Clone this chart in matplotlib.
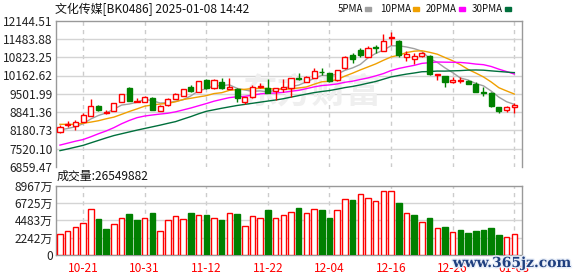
import matplotlib
matplotlib.use("Agg")
import matplotlib.pyplot as plt
import matplotlib.patheffects as pe
import numpy as np

plt.rcParams['font.family'] = ['Noto Sans CJK SC', 'DejaVu Sans']

# ---- data ----
dates = ['10-16', '10-17', '10-18', '10-21', '10-22', '10-23', '10-24', '10-25', '10-28', '10-29',
         '10-30', '10-31', '11-01', '11-04', '11-05', '11-06', '11-07', '11-08', '11-11', '11-12',
         '11-13', '11-14', '11-15', '11-18', '11-19', '11-20', '11-21', '11-22', '11-25', '11-26',
         '11-27', '11-28', '11-29', '12-02', '12-03', '12-04', '12-05', '12-06', '12-09', '12-10',
         '12-11', '12-12', '12-13', '12-16', '12-17', '12-18', '12-19', '12-20', '12-23', '12-24',
         '12-25', '12-26', '12-27', '12-30', '12-31', '01-02', '01-03', '01-06', '01-07', '01-08']

opens = [8112, 8364, 8340, 8496, 8713, 9062, 8821, 8893, 9194, 9699,
         9206, 9218, 9339, 8881, 9098, 9330, 9423, 9760, 9579, 10000,
         9700, 9940, 9663, 9663, 9218, 9375, 9736, 9724, 9603, 9663,
         9700, 10070, 9941, 10085, 10302, 10242, 10001, 10422, 10903, 11084,
         10819, 11204, 11060, 11505, 11421, 10819, 10758, 10879, 10867, 10181,
         10145, 9940, 9970, 9964, 9856, 9579, 9543, 9014, 8918, 9038]
highs = [8376, 8520, 8557, 8797, 9314, 9098, 8917, 9182, 9483, 9760,
         9339, 9423, 9375, 9086, 9339, 9520, 9675, 9820, 9964, 10024,
         10036, 10060, 10060, 9724, 9399, 9820, 9880, 10024, 9712, 10024,
         10060, 10266, 10145, 10422, 10422, 10266, 10362, 10867, 10963, 11144,
         11240, 11264, 11661, 11745, 11457, 11048, 10963, 11023, 10891, 10217,
         10157, 10121, 10121, 10001, 9940, 9760, 9555, 9026, 9050, 9159]
lows = [8100, 8316, 8196, 8484, 8713, 8893, 8761, 8893, 9194, 9230,
        9194, 9194, 8917, 8881, 9074, 9320, 9410, 9579, 9567, 9688,
        9676, 9663, 9663, 9218, 9122, 9363, 9700, 9519, 9278, 9579,
        9400, 10001, 9941, 10061, 10182, 9941, 9965, 10410, 10602, 10843,
        10819, 10987, 11048, 11264, 10843, 10687, 10566, 10843, 10181, 10000,
        9760, 9904, 9880, 9844, 9555, 9435, 9038, 8797, 8858, 8822]
closes = [8292, 8400, 8472, 8737, 9062, 8929, 8845, 9158, 9483, 9254,
          9240, 9375, 8917, 9062, 9302, 9500, 9663, 9615, 9964, 9700,
          10000, 9700, 9760, 9339, 9399, 9760, 9784, 9543, 9700, 9736,
          10060, 10040, 10121, 10326, 10278, 9965, 10362, 10819, 10759, 10903,
          11144, 11168, 11421, 11541, 10903, 10927, 10867, 10963, 10205, 10217,
          9940, 10001, 9990, 9856, 9579, 9519, 9062, 8882, 9038, 9098]

ma5 = [8200, 8250, 8310, 8420, 8593, 8720, 8809, 8946, 9095, 9134,
       9196, 9302, 9254, 9169, 9179, 9231, 9289, 9428, 9609, 9688,
       9788, 9796, 9825, 9700, 9640, 9592, 9608, 9565, 9637, 9705,
       9765, 9816, 9931, 10057, 10165, 10155, 10210, 10350, 10437, 10562,
       10797, 10959, 11079, 11235, 11235, 11192, 11132, 11040, 10773, 10636,
       10438, 10265, 10071, 10001, 9873, 9789, 9601, 9380, 9216, 9120]
ma10 = [8400, 8400, 8400, 8440, 8480, 8530, 8600, 8660, 8760, 8863,
        8957, 9055, 9099, 9132, 9156, 9213, 9295, 9341, 9389, 9435,
        9510, 9542, 9627, 9654, 9664, 9690, 9702, 9695, 9669, 9672,
        9678, 9713, 9749, 9847, 9935, 9956, 10014, 10141, 10247, 10364,
        10472, 10581, 10711, 10832, 10895, 10991, 11041, 11056, 11000, 10932,
        10811, 10695, 10552, 10383, 10251, 10110, 9929, 9721, 9605, 9494]
ma20 = [7650, 7720, 7790, 7850, 7950, 8060, 8160, 8280, 8420, 8540,
        8640, 8700, 8737, 8770, 8800, 8850, 8920, 8990, 9070, 9149,
        9235, 9300, 9364, 9394, 9411, 9453, 9499, 9519, 9530, 9554,
        9594, 9627, 9688, 9751, 9800, 9823, 9858, 9918, 9958, 10018,
        10075, 10149, 10232, 10342, 10417, 10475, 10529, 10600, 10626, 10650,
        10644, 10640, 10634, 10610, 10575, 10553, 10488, 10391, 10305, 10215]
ma30 = [7450, 7510, 7575, 7640, 7730, 7820, 7910, 7994, 8060, 8125,
        8190, 8250, 8310, 8370, 8435, 8497, 8590, 8680, 8780, 8870,
        8925, 8980, 9030, 9080, 9120, 9160, 9200, 9240, 9278, 9324,
        9382, 9437, 9492, 9545, 9585, 9620, 9670, 9726, 9768, 9823,
        9886, 9946, 10029, 10112, 10165, 10213, 10253, 10298, 10306, 10323,
        10321, 10331, 10339, 10356, 10362, 10354, 10330, 10308, 10286, 10265]

# volume in 万
volume = [2780, 3113, 3625, 4189, 5982, 4701, 3331, 4061, 4829, 5252,
          4483, 4829, 5419, 3074, 4483, 4996, 4612, 5419, 5124, 5161,
          4735, 4516, 5380, 5290, 3742, 5032, 4735, 5806, 4735, 5161,
          5509, 6064, 5380, 5896, 5806, 4774, 5806, 7186, 7096, 7831,
          7315, 6967, 8257, 8257, 6748, 5458, 5161, 4219, 4774, 3445,
          3574, 2968, 3226, 2877, 3097, 3226, 3484, 2581, 2284, 2655]

price_ticks = [6859.47, 7520.10, 8180.73, 8841.36, 9501.99, 10162.62, 10823.25, 11483.88, 12144.51]
vol_ticks = [0, 2242, 4483, 6725, 8967]
vol_tick_labels = ['0', '2242万', '4483万', '6725万', '8967万']
x_tick_labels = ['10-21', '10-31', '11-12', '11-22', '12-04', '12-16', '12-26', '01-08']
title = '文化传媒[BK0486] 2025-01-08 14:42'
vol_title = '成交量:26549882'

# ---- styling ----
RED = '#ff0000'
GREEN = '#008000'
FRAME = '#999999'
GRID = '#d4d4d4'
W, H = 578, 276

o = np.array(opens, float)
h = np.array(highs, float)
l = np.array(lows, float)
c = np.array(closes, float)
x = np.arange(len(dates))
up = c >= o
prev = np.concatenate([[o[0]], c[:-1]])
vol_up = c >= prev

fig = plt.figure(figsize=(W / 100, H / 100), dpi=100)
ax = fig.add_axes([55.5 / W, 1 - 167 / H, (522 - 55.5) / W, (167 - 20.6) / H])
axv = fig.add_axes([55.5 / W, 1 - 255 / H, (522 - 55.5) / W, (255 - 185.7) / H])

tick_idx = [dates.index(d) for d in x_tick_labels]

for a in (ax, axv):
    a.set_xlim(-0.58, 60.0)
    for s in a.spines.values():
        s.set_color(FRAME)
        s.set_linewidth(1)
    for i in tick_idx:
        a.axvline(i, color='#cccccc', lw=1, ls=(0, (3, 3)), zorder=0.5)
    a.tick_params(length=0, labelsize=8.6, colors='#222222', pad=2)
ax.spines['bottom'].set_visible(False)

# price panel
ax.set_ylim(price_ticks[0], price_ticks[-1])
ax.set_yticks(price_ticks)
ax.set_yticklabels(['%.2f' % t for t in price_ticks])
for t in price_ticks[1:-1]:
    ax.axhline(t, color=GRID, lw=1, zorder=0.5)
ax.set_xticks([])

ax.text(312 / W, 1 - 92 / H, '东方财富', transform=fig.transFigure, ha='center', va='center',
        fontsize=25, fontweight='bold', color='#efefef', zorder=0.6, style='italic')

ax.plot(x, ma5, color='#a0a0a0', lw=1, zorder=2)
ax.plot(x, ma10, color='#f0a000', lw=1, zorder=2)
ax.plot(x, ma20, color='#ff00ff', lw=1, zorder=2)
ax.plot(x, ma30, color='#006f3c', lw=1, zorder=2)

cols = np.where(up, RED, GREEN)
ax.vlines(x, l, h, colors=cols, lw=1, zorder=3)
body = np.maximum(np.abs(c - o), 6)
ax.bar(x, body, bottom=np.minimum(o, c), width=0.66,
       color=np.where(up, 'white', GREEN), edgecolor=cols, linewidth=1, zorder=4)

# volume panel
axv.set_ylim(0, vol_ticks[-1])
axv.set_yticks(vol_ticks)
axv.set_yticklabels(vol_tick_labels)
for t in vol_ticks[1:-1]:
    axv.axhline(t, color=GRID, lw=1, zorder=0.5)
vcols = np.where(vol_up, RED, GREEN)
axv.bar(x, volume, width=0.72, color=np.where(vol_up, 'white', GREEN),
        edgecolor=vcols, linewidth=1, zorder=3)
axv.set_xticks(tick_idx)
axv.set_xticklabels(x_tick_labels)
axv.tick_params(axis='x', colors=RED, pad=5)

# texts
fig.text(55 / W, 1 - 9 / H, title, fontsize=8.6, color='#111111', va='center', ha='left')
fig.text(57 / W, 1 - 176 / H, vol_title, fontsize=8.6, color='#111111', va='center', ha='left')

legend = [('5PMA', '#a0a0a0', 338, 365), ('10PMA', '#f0a000', 380, 413),
          ('20PMA', '#ff00ff', 426, 459), ('30PMA', '#006f3c', 472, 505)]
for name, col, tx, sx in legend:
    fig.text(tx / W, 1 - 9 / H, name, fontsize=7, color='#111111', va='center', ha='left')
    fig.patches.append(plt.Rectangle((sx / W, 1 - 10.5 / H), 6 / W, 3.5 / H, color=col,
                                     transform=fig.transFigure, figure=fig))

fig.text(512 / W, 1 - 263 / H, 'www.365jz.com', fontsize=10, family='DejaVu Serif',
         fontweight='bold', color='#1f3f7f', ha='center', va='center',
         path_effects=[pe.withStroke(linewidth=2, foreground='#e8eef8')])

fig.savefig('out.png', dpi=100)
